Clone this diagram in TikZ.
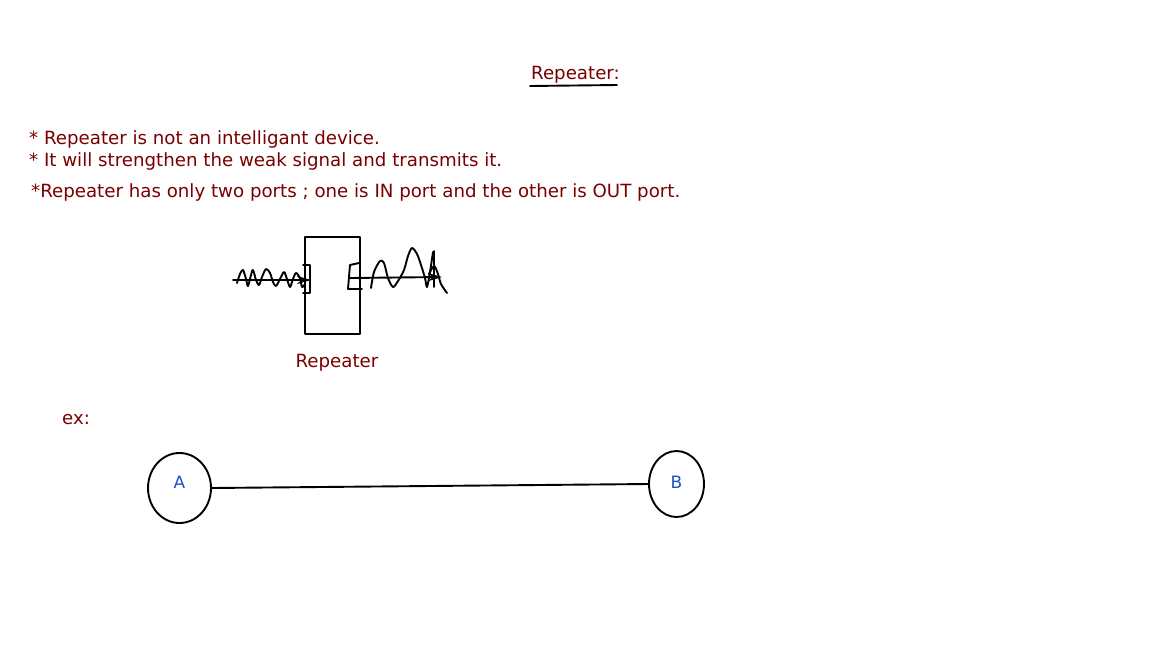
\documentclass[tikz,border=0pt]{standalone}
\usepackage{fontspec}
\setmainfont{DejaVu Sans}
\usetikzlibrary{arrows.meta,shapes.geometric,positioning}
\definecolor{note}{HTML}{780000}
\definecolor{hostblue}{HTML}{1C4FC8}
\tikzset{
  every picture/.style={
    line join=round,
    line cap=round,
    >={Stealth[length=14pt, width=8pt]},   % one arrow tip everywhere
  },
  notetext/.style={text=note, font=\fontsize{18.2}{21}\selectfont, inner sep=0pt, anchor=west},
  pen/.style={line width=1.9pt},
  host/.style={draw, ellipse, line width=1.9pt, inner sep=0pt},
  hostlabel/.style={text=hostblue, font=\fontsize{17}{19}\selectfont, inner sep=0pt},
}

\begin{document}
\begin{tikzpicture}[x=1pt, y=-1pt]
\useasboundingbox (0,0) rectangle (1168,657);
% heading and notes
\node[notetext] (title) at (531,74.5) {Repeater:};
\draw[pen] (530,86) -- (617,85);
\node[notetext] (note1) at (29,139.5) {* Repeater is not an intelligant device.};
\node[notetext] (note2) at (29,161.5) {* It will strengthen the weak signal and transmits it.};
\node[notetext] (note3) at (31,192.5) {*Repeater has only two ports ; one is IN port and the other is OUT port.};
% the repeater box
\node[draw, line width=1.9pt, minimum width=55pt, minimum height=97pt, inner sep=0pt] (rep) at (332.5,285.5) {};
\node[notetext, anchor=north, below=19pt of rep, xshift=4.5pt] (replabel) {Repeater};
% ports
\draw[pen] (303,265) -- (310,265) -- (310,293) -- (303,293);
\draw[pen] (359,263) -- (350,265) -- (348,289) -- (362,289);
\coordinate (inport) at (311,280);
\coordinate (outport) at (350,278);
% weak signal in
\draw[pen] plot[smooth] coordinates {(237,283) (240,274) (243,270) (246,279) (248,286) (251,275) (253,270)
  (256,280) (259,285) (262,277) (266,269) (270,273) (273,282) (276,286) (280,279) (284,272)
  (287,279) (290,287) (293,279) (296,273) (300,278) (302,287) (305,284)};
\draw[pen,->] (233,280) -- (inport);
% strong signal out
\draw[pen] plot[smooth] coordinates {(371,288) (374,272) (380,261) (384,263) (388,278) (393,287)
  (398,281) (404,270) (408,256) (412,248) (417,254) (421,265) (425,278) (427,287) (430,272) (433,252)};
\draw[pen] (434,251) -- (434,287);
\draw[pen] plot[smooth] coordinates {(429,274) (434,266) (438,274) (441,284) (447,293)};
\draw[pen,->] (outport) -- (442,277);
% example
\node[notetext] (ex) at (62,419.5) {ex:};
\node[host, minimum width=63pt, minimum height=70pt] (A) at (179.5,488) {};
\node[hostlabel] at ([yshift=6pt]A.center) {A};
\node[host, minimum width=55pt, minimum height=66pt] (B) at (676.5,484) {};
\node[hostlabel] at ([yshift=2pt]B.center) {B};
\draw[pen] (A.east) -- (B.west);
\end{tikzpicture}
\end{document}
